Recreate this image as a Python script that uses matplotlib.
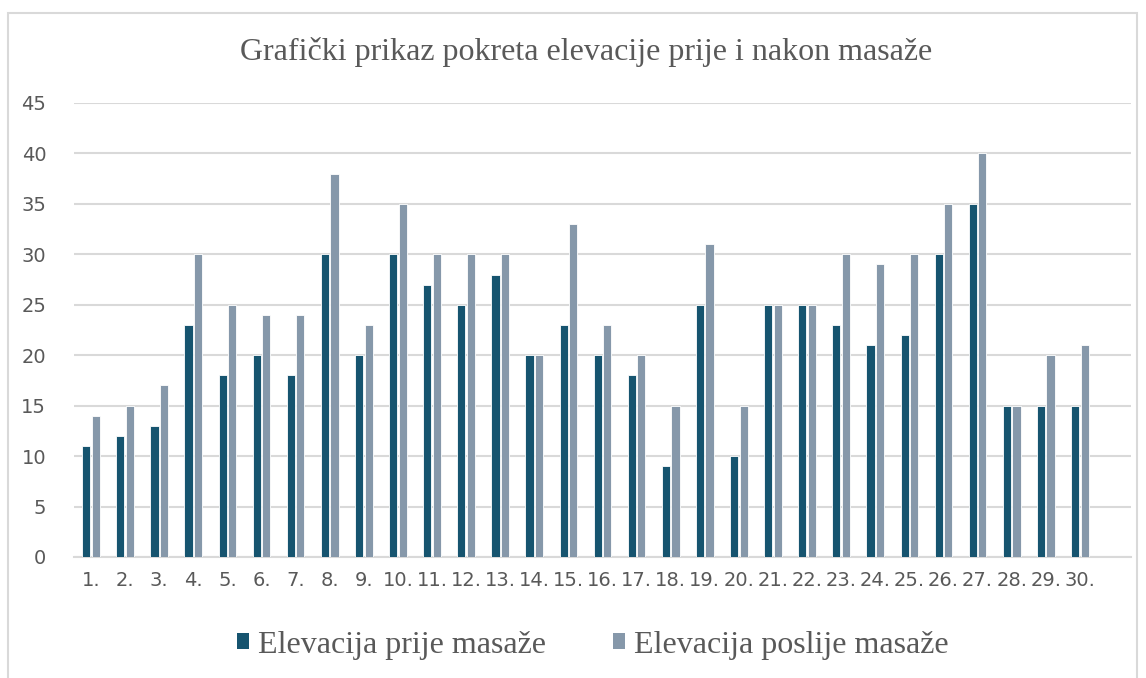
import matplotlib
matplotlib.use("Agg")
import matplotlib.pyplot as plt
from matplotlib.patches import Rectangle, Patch
import numpy as np

categories = [f"{i}." for i in range(1, 31)]
prije = [11, 12, 13, 23, 18, 20, 18, 30, 20, 30, 27, 25, 28, 20, 23,
         20, 18, 9, 25, 10, 25, 25, 23, 21, 22, 30, 35, 15, 15, 15]
poslije = [14, 15, 17, 30, 25, 24, 24, 38, 23, 35, 30, 30, 30, 20, 33,
           23, 20, 15, 31, 15, 25, 25, 30, 29, 30, 35, 40, 15, 20, 21]
series_names = ["Elevacija prije masaže", "Elevacija poslije masaže"]
title = "Grafički prikaz pokreta elevacije prije i nakon masaže"

c_dark = "#16546F"
c_light = "#8698AA"
txt = "#595959"
grid_c = "#D9D9D9"

W, H = 1146, 678
fig = plt.figure(figsize=(W / 100, H / 100), dpi=100)
ax = fig.add_axes([74 / W, 1 - 557 / H, (1131 - 74) / W, (557 - 103) / H])

x = np.arange(len(categories))
bw = 0.24
off = 0.14
ax.bar(x - off, prije, width=bw, color=c_dark, edgecolor="white", linewidth=0.6, zorder=3)
ax.bar(x + off, poslije, width=bw, color=c_light, edgecolor="white", linewidth=0.6, zorder=3)

ax.set_xlim(-0.5, len(categories) + 0.5)
ax.set_ylim(0, 45)
ax.set_yticks(np.arange(0, 46, 5))
ax.set_xticks(x)
ax.set_xticklabels(categories)
ax.yaxis.grid(True, color=grid_c, linewidth=1.5, zorder=0)
ax.set_axisbelow(True)
for s in ["top", "right", "left"]:
    ax.spines[s].set_visible(False)
ax.spines["bottom"].set_color(grid_c)
ax.spines["bottom"].set_linewidth(1.5)
ax.tick_params(axis="both", length=0, labelcolor=txt, labelsize=14)
ax.tick_params(axis="y", pad=20)
ax.tick_params(axis="x", pad=10)

fig.text(586 / W, 1 - 52 / H, title, ha="center", va="center",
         family="Liberation Serif", fontsize=23, color=txt)

handles = [Patch(facecolor=c_dark), Patch(facecolor=c_light)]
leg = fig.legend(handles, series_names, loc="center", bbox_to_anchor=(593 / W, 1 - 645 / H),
                 ncol=2, frameon=False, prop={"family": "Liberation Serif", "size": 23},
                 handlelength=0.36, handleheight=0.36, handletextpad=0.3, columnspacing=2.1)
for t in leg.get_texts():
    t.set_color(txt)

fig.patches.append(Rectangle((8 / W, -0.01), (1137 - 8) / W, 1 - 13 / H + 0.01,
                             transform=fig.transFigure, fill=False,
                             edgecolor="#D9D9D9", linewidth=1.5))

fig.savefig("out.png", dpi=100)
